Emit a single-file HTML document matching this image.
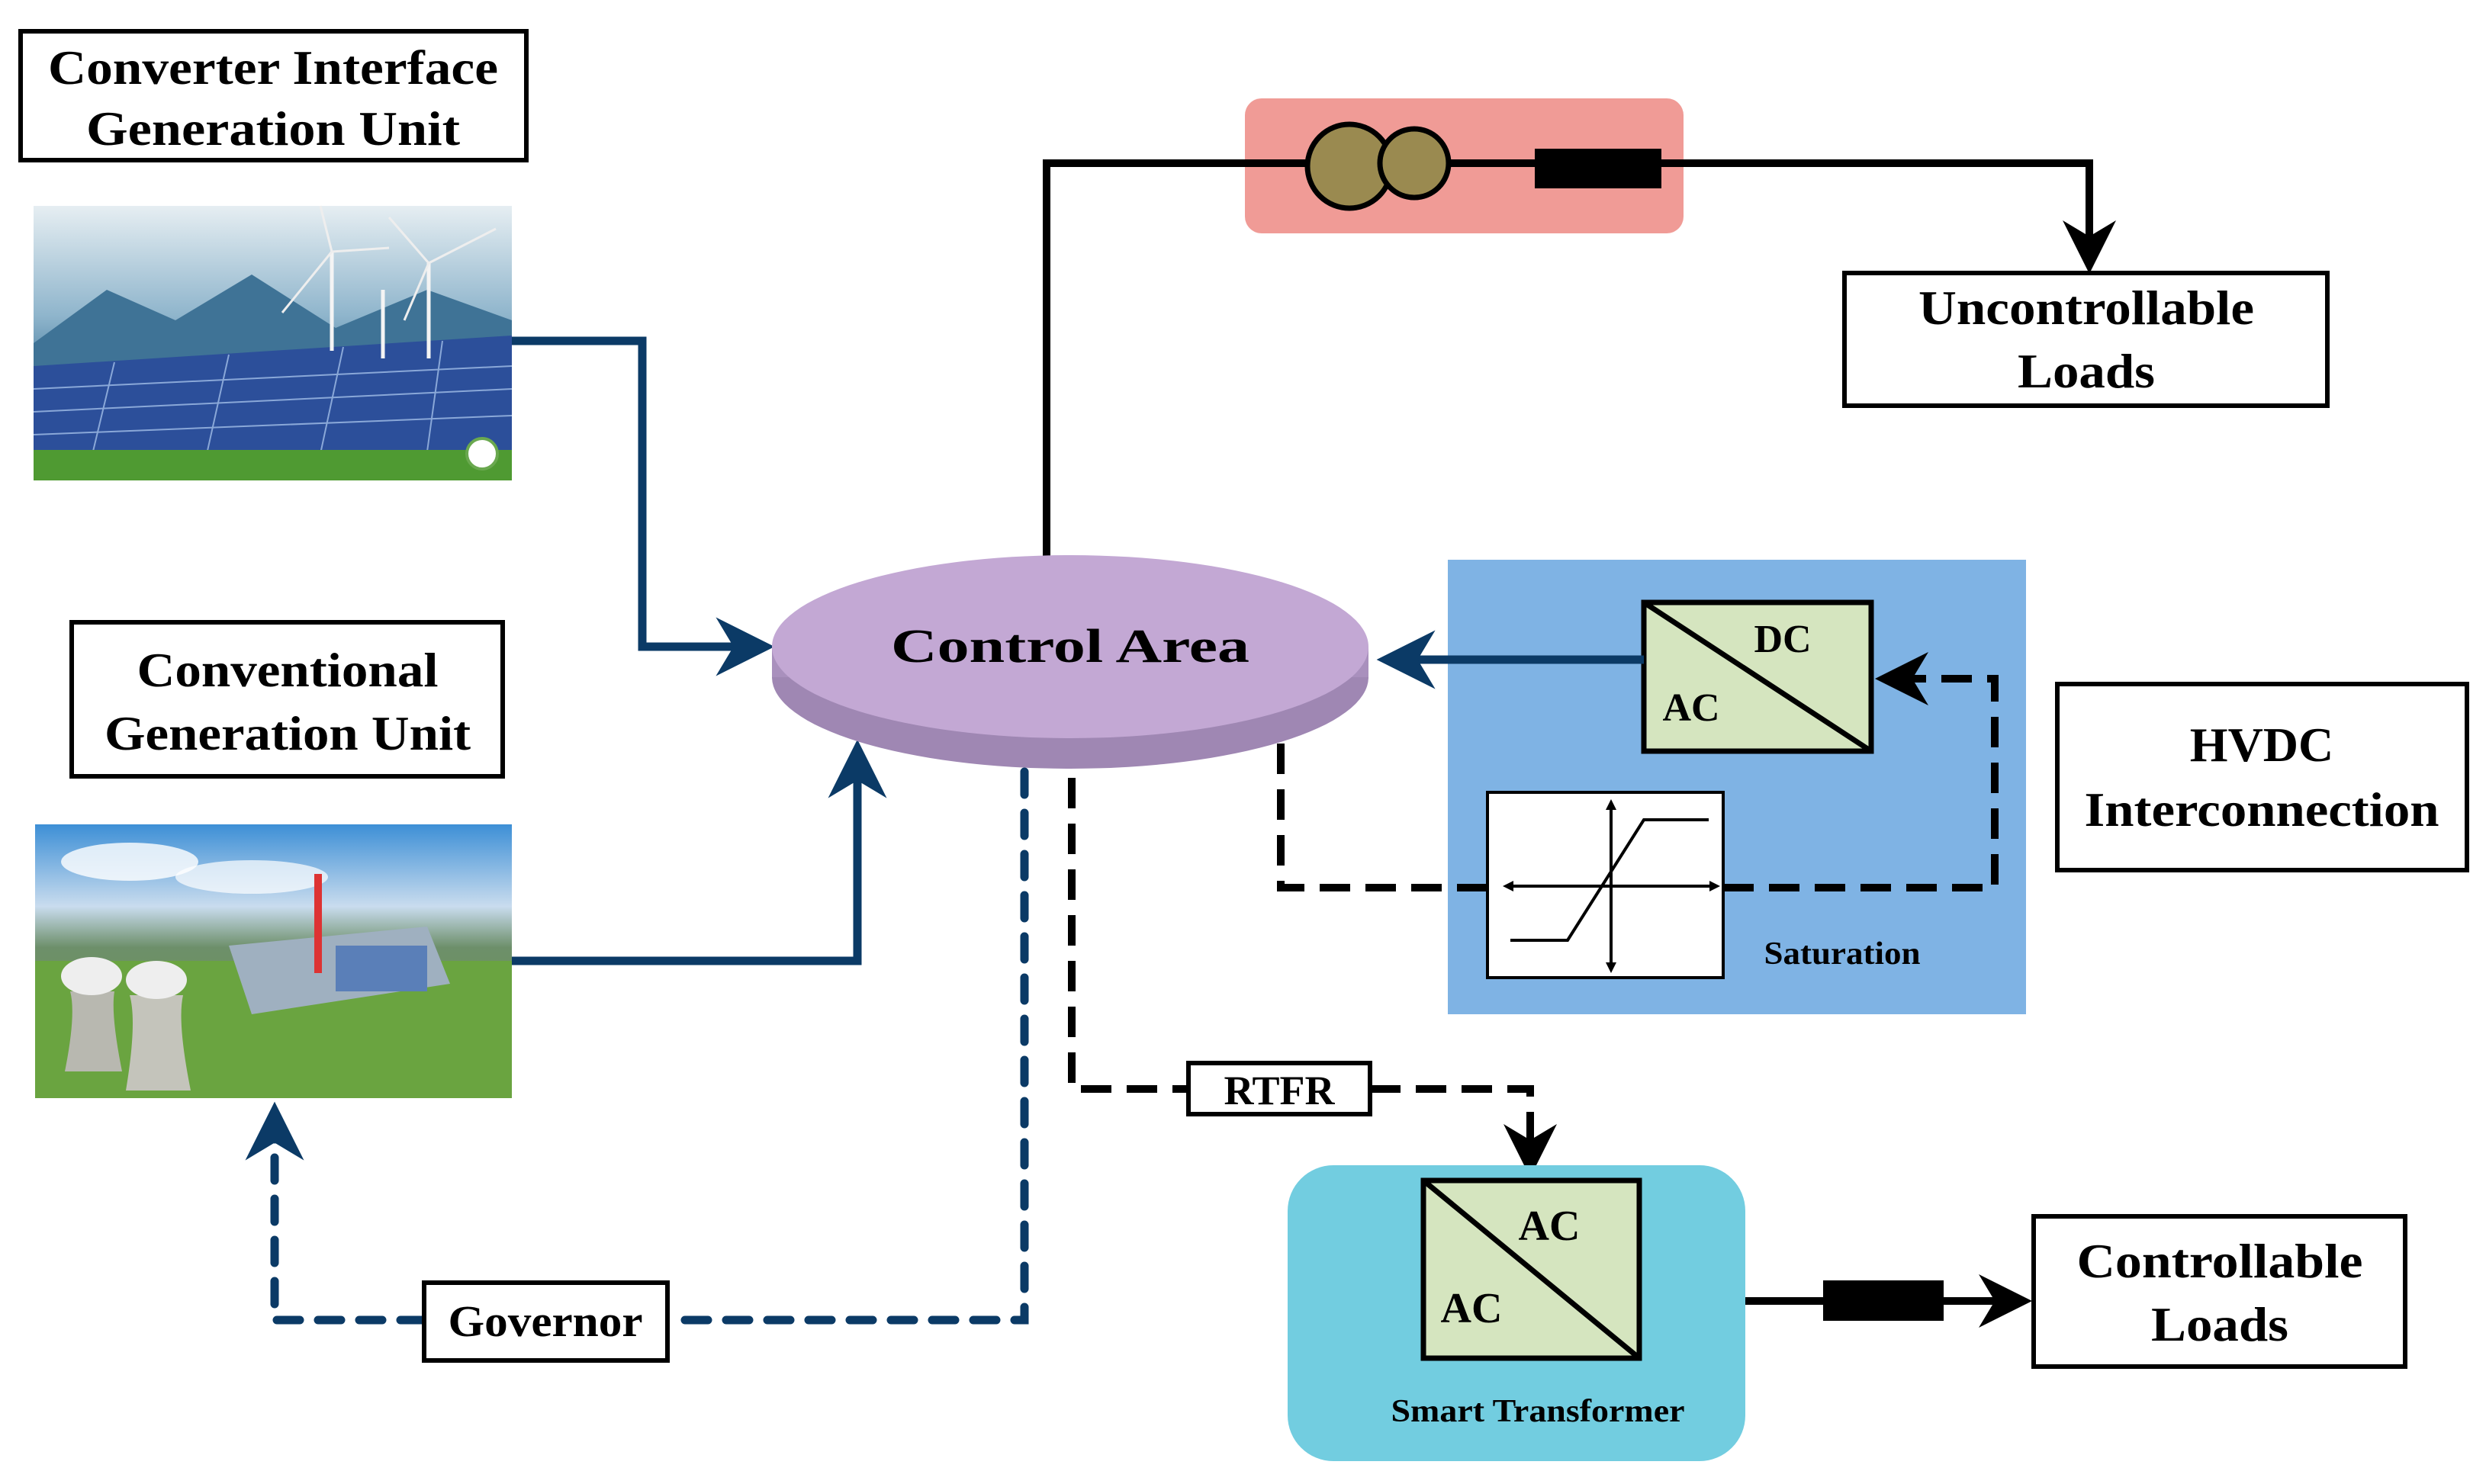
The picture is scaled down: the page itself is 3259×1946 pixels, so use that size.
<!DOCTYPE html>
<html><head><meta charset="utf-8"><style>body{margin:0;background:#fff}svg{display:block}</style></head>
<body>
<svg width="3259" height="1946" viewBox="0 0 3259 1946" xmlns="http://www.w3.org/2000/svg" font-family="Liberation Serif, serif" font-weight="bold">
<defs>
<marker id="an" viewBox="0 0 20 20" refX="16" refY="10" markerWidth="7" markerHeight="7" orient="auto" markerUnits="strokeWidth"><path d="M0,0 L20,10 L0,20 L6,10 Z" fill="#0b3a66"/></marker>
<marker id="ab" viewBox="0 0 20 20" refX="16" refY="10" markerWidth="7" markerHeight="7" orient="auto" markerUnits="strokeWidth"><path d="M0,0 L20,10 L0,20 L6,10 Z" fill="#000"/></marker>
<linearGradient id="sky1" x1="0" y1="0" x2="0" y2="1"><stop offset="0" stop-color="#e6eef2"/><stop offset="0.4" stop-color="#8fb5cc"/><stop offset="0.55" stop-color="#5f8fae"/><stop offset="1" stop-color="#4b7fa0"/></linearGradient>
<linearGradient id="sky2" x1="0" y1="0" x2="0" y2="1"><stop offset="0" stop-color="#3d8fd6"/><stop offset="0.3" stop-color="#c9dcee"/><stop offset="0.45" stop-color="#6d8f6a"/><stop offset="1" stop-color="#6aa440"/></linearGradient>
</defs>

<rect x="27" y="41" width="663" height="169" fill="#fff" stroke="#000" stroke-width="6"/>
<text x="358" y="110" font-size="64" text-anchor="middle" textLength="590" lengthAdjust="spacingAndGlyphs">Converter Interface</text>
<text x="358" y="190" font-size="64" text-anchor="middle" textLength="490" lengthAdjust="spacingAndGlyphs">Generation Unit</text>

<rect x="44" y="270" width="627" height="360" fill="url(#sky1)"/>
<path d="M44,450 L140,380 L230,420 L330,360 L440,430 L560,380 L671,420 L671,520 L44,520Z" fill="#3f7396"/>
<polygon points="44,480 671,440 671,590 44,600" fill="#2c4f9a"/>
<g stroke="#8aa8d8" stroke-width="2"><line x1="44" y1="510" x2="671" y2="480"/><line x1="44" y1="540" x2="671" y2="510"/><line x1="44" y1="570" x2="671" y2="545"/><line x1="150" y1="475" x2="120" y2="600"/><line x1="300" y1="465" x2="270" y2="600"/><line x1="450" y1="455" x2="420" y2="595"/><line x1="580" y1="447" x2="560" y2="592"/></g>
<rect x="44" y="590" width="627" height="40" fill="#4f9a32"/>
<g stroke="#f4f4f4" stroke-width="5"><line x1="435" y1="330" x2="435" y2="460"/><line x1="502" y1="380" x2="502" y2="470"/><line x1="562" y1="345" x2="562" y2="470"/></g>
<g stroke="#eee" stroke-width="3"><line x1="435" y1="330" x2="420" y2="270"/><line x1="435" y1="330" x2="510" y2="325"/><line x1="435" y1="330" x2="370" y2="410"/><line x1="562" y1="345" x2="510" y2="285"/><line x1="562" y1="345" x2="650" y2="300"/><line x1="562" y1="345" x2="530" y2="420"/></g>
<circle cx="632" cy="595" r="20" fill="#fff" stroke="#6aa84f" stroke-width="4"/>

<rect x="94" y="816" width="565" height="202" fill="#fff" stroke="#000" stroke-width="6"/>
<text x="377" y="900" font-size="64" text-anchor="middle" textLength="395" lengthAdjust="spacingAndGlyphs">Conventional</text>
<text x="377" y="983" font-size="64" text-anchor="middle" textLength="480" lengthAdjust="spacingAndGlyphs">Generation Unit</text>

<rect x="46" y="1081" width="625" height="359" fill="url(#sky2)"/>
<ellipse cx="170" cy="1130" rx="90" ry="25" fill="#fff" opacity="0.8"/>
<ellipse cx="330" cy="1150" rx="100" ry="22" fill="#fff" opacity="0.7"/>
<rect x="46" y="1260" width="625" height="180" fill="#6aa440"/>
<polygon points="300,1240 560,1215 590,1290 330,1330" fill="#9fb0c0"/>
<rect x="440" y="1240" width="120" height="60" fill="#5a7fb8"/>
<rect x="412" y="1146" width="10" height="130" fill="#d33"/>
<path d="M85,1405 Q100,1330 92,1300 L150,1300 Q145,1330 160,1405Z" fill="#b8b8b0"/>
<path d="M165,1430 Q180,1340 170,1305 L240,1305 Q232,1340 250,1430Z" fill="#c4c4bb"/>
<ellipse cx="120" cy="1280" rx="40" ry="25" fill="#eee"/>
<ellipse cx="205" cy="1285" rx="40" ry="25" fill="#eee"/>

<polyline points="671,447 842,447 842,848 1000,848" fill="none" stroke="#0b3a66" stroke-width="11" marker-end="url(#an)"/>
<polyline points="671,1260 1124,1260 1124,985" fill="none" stroke="#0b3a66" stroke-width="11" marker-end="url(#an)"/>

<polyline points="1372,730 1372,214 2739,214 2739,345" fill="none" stroke="#000" stroke-width="10" marker-end="url(#ab)"/>
<rect x="1632" y="129" width="575" height="177" rx="22" fill="#f09b96"/>
<line x1="1372" y1="214" x2="2739" y2="214" stroke="#000" stroke-width="10"/>
<circle cx="1769" cy="218" r="55" fill="#9a8a50" stroke="#000" stroke-width="7"/>
<circle cx="1854" cy="214" r="45" fill="#9a8a50" stroke="#000" stroke-width="7"/>
<rect x="2012" y="195" width="166" height="52" fill="#000"/>

<rect x="2418" y="358" width="633" height="174" fill="#fff" stroke="#000" stroke-width="6"/>
<text x="2735" y="425" font-size="64" text-anchor="middle" textLength="440" lengthAdjust="spacingAndGlyphs">Uncontrollable</text>
<text x="2735" y="508" font-size="64" text-anchor="middle" textLength="180" lengthAdjust="spacingAndGlyphs">Loads</text>

<rect x="1898" y="734" width="758" height="596" fill="#7fb3e4"/>
<rect x="2155" y="790" width="298" height="195" fill="#d5e5bf" stroke="#000" stroke-width="7"/>
<line x1="2155" y1="790" x2="2453" y2="985" stroke="#000" stroke-width="7"/>
<text x="2337" y="855" font-size="52" text-anchor="middle">DC</text>
<text x="2217" y="945" font-size="52" text-anchor="middle">AC</text>
<rect x="1950" y="1039" width="309" height="243" fill="#fff" stroke="#000" stroke-width="4"/>
<g stroke="#000" stroke-width="4" fill="none">
<line x1="1975" y1="1162" x2="2250" y2="1162"/><line x1="2112" y1="1052" x2="2112" y2="1272"/>
<polyline points="1980,1233 2055,1233 2155,1075 2240,1075"/>
</g>
<path d="M1970,1162 l14,-7 v14z M2255,1162 l-14,-7 v14z M2112,1048 l-7,14 h14z M2112,1276 l-7,-14 h14z" fill="#000"/>
<text x="2415" y="1264" font-size="42" text-anchor="middle" textLength="205" lengthAdjust="spacingAndGlyphs">Saturation</text>
<line x1="2155" y1="865" x2="1820" y2="865" stroke="#0b3a66" stroke-width="11" marker-end="url(#an)"/>

<rect x="2697" y="897" width="537" height="244" fill="#fff" stroke="#000" stroke-width="6"/>
<text x="2965" y="998" font-size="64" text-anchor="middle">HVDC</text>
<text x="2965" y="1083" font-size="64" text-anchor="middle" textLength="465" lengthAdjust="spacingAndGlyphs">Interconnection</text>

<ellipse cx="1403" cy="888" rx="391" ry="120" fill="#9f87b3"/>
<rect x="1012" y="848" width="782" height="40" fill="#a990bd"/>
<ellipse cx="1403" cy="848" rx="391" ry="120" fill="#c3a8d4"/>
<text x="1403" y="868" font-size="62" text-anchor="middle" textLength="470" lengthAdjust="spacingAndGlyphs">Control Area</text>

<polyline points="1679,975 1679,1164 1950,1164" fill="none" stroke="#000" stroke-width="10" stroke-dasharray="40,20"/>
<polyline points="2259,1164 2615,1164 2615,890 2472,890" fill="none" stroke="#000" stroke-width="10" stroke-dasharray="40,20" marker-end="url(#ab)"/>

<polyline points="1405,1020 1405,1428 1557,1428" fill="none" stroke="#000" stroke-width="10" stroke-dasharray="40,20"/>
<polyline points="1796,1428 2006,1428 2006,1530" fill="none" stroke="#000" stroke-width="10" stroke-dasharray="40,20" marker-end="url(#ab)"/>
<rect x="1558" y="1394" width="238" height="67" fill="#fff" stroke="#000" stroke-width="6"/>
<text x="1677" y="1448" font-size="54" text-anchor="middle">RTFR</text>

<rect x="1688" y="1528" width="600" height="388" rx="60" fill="#72cde0"/>
<rect x="1866" y="1548" width="283" height="233" fill="#d5e5bf" stroke="#000" stroke-width="7"/>
<line x1="1866" y1="1548" x2="2149" y2="1781" stroke="#000" stroke-width="7"/>
<text x="2031" y="1626" font-size="56" text-anchor="middle">AC</text>
<text x="1929" y="1734" font-size="56" text-anchor="middle">AC</text>
<text x="2016" y="1864" font-size="42" text-anchor="middle" textLength="385" lengthAdjust="spacingAndGlyphs">Smart Transformer</text>
<line x1="2288" y1="1706" x2="2650" y2="1706" stroke="#000" stroke-width="10" marker-end="url(#ab)"/>
<rect x="2390" y="1679" width="158" height="53" fill="#000"/>
<rect x="2666" y="1595" width="487" height="197" fill="#fff" stroke="#000" stroke-width="6"/>
<text x="2910" y="1675" font-size="64" text-anchor="middle" textLength="375" lengthAdjust="spacingAndGlyphs">Controllable</text>
<text x="2910" y="1758" font-size="64" text-anchor="middle" textLength="180" lengthAdjust="spacingAndGlyphs">Loads</text>

<polyline points="1343,1012 1343,1731 875,1731" fill="none" stroke="#0b3a66" stroke-width="11" stroke-dasharray="30,24" stroke-linecap="round"/>
<polyline points="555,1731 360,1731 360,1460" fill="none" stroke="#0b3a66" stroke-width="11" stroke-dasharray="30,24" stroke-linecap="round" marker-end="url(#an)"/>
<rect x="556" y="1682" width="319" height="102" fill="#fff" stroke="#000" stroke-width="6"/>
<text x="715" y="1752" font-size="58" text-anchor="middle" textLength="255" lengthAdjust="spacingAndGlyphs">Governor</text>
</svg>
</body></html>
